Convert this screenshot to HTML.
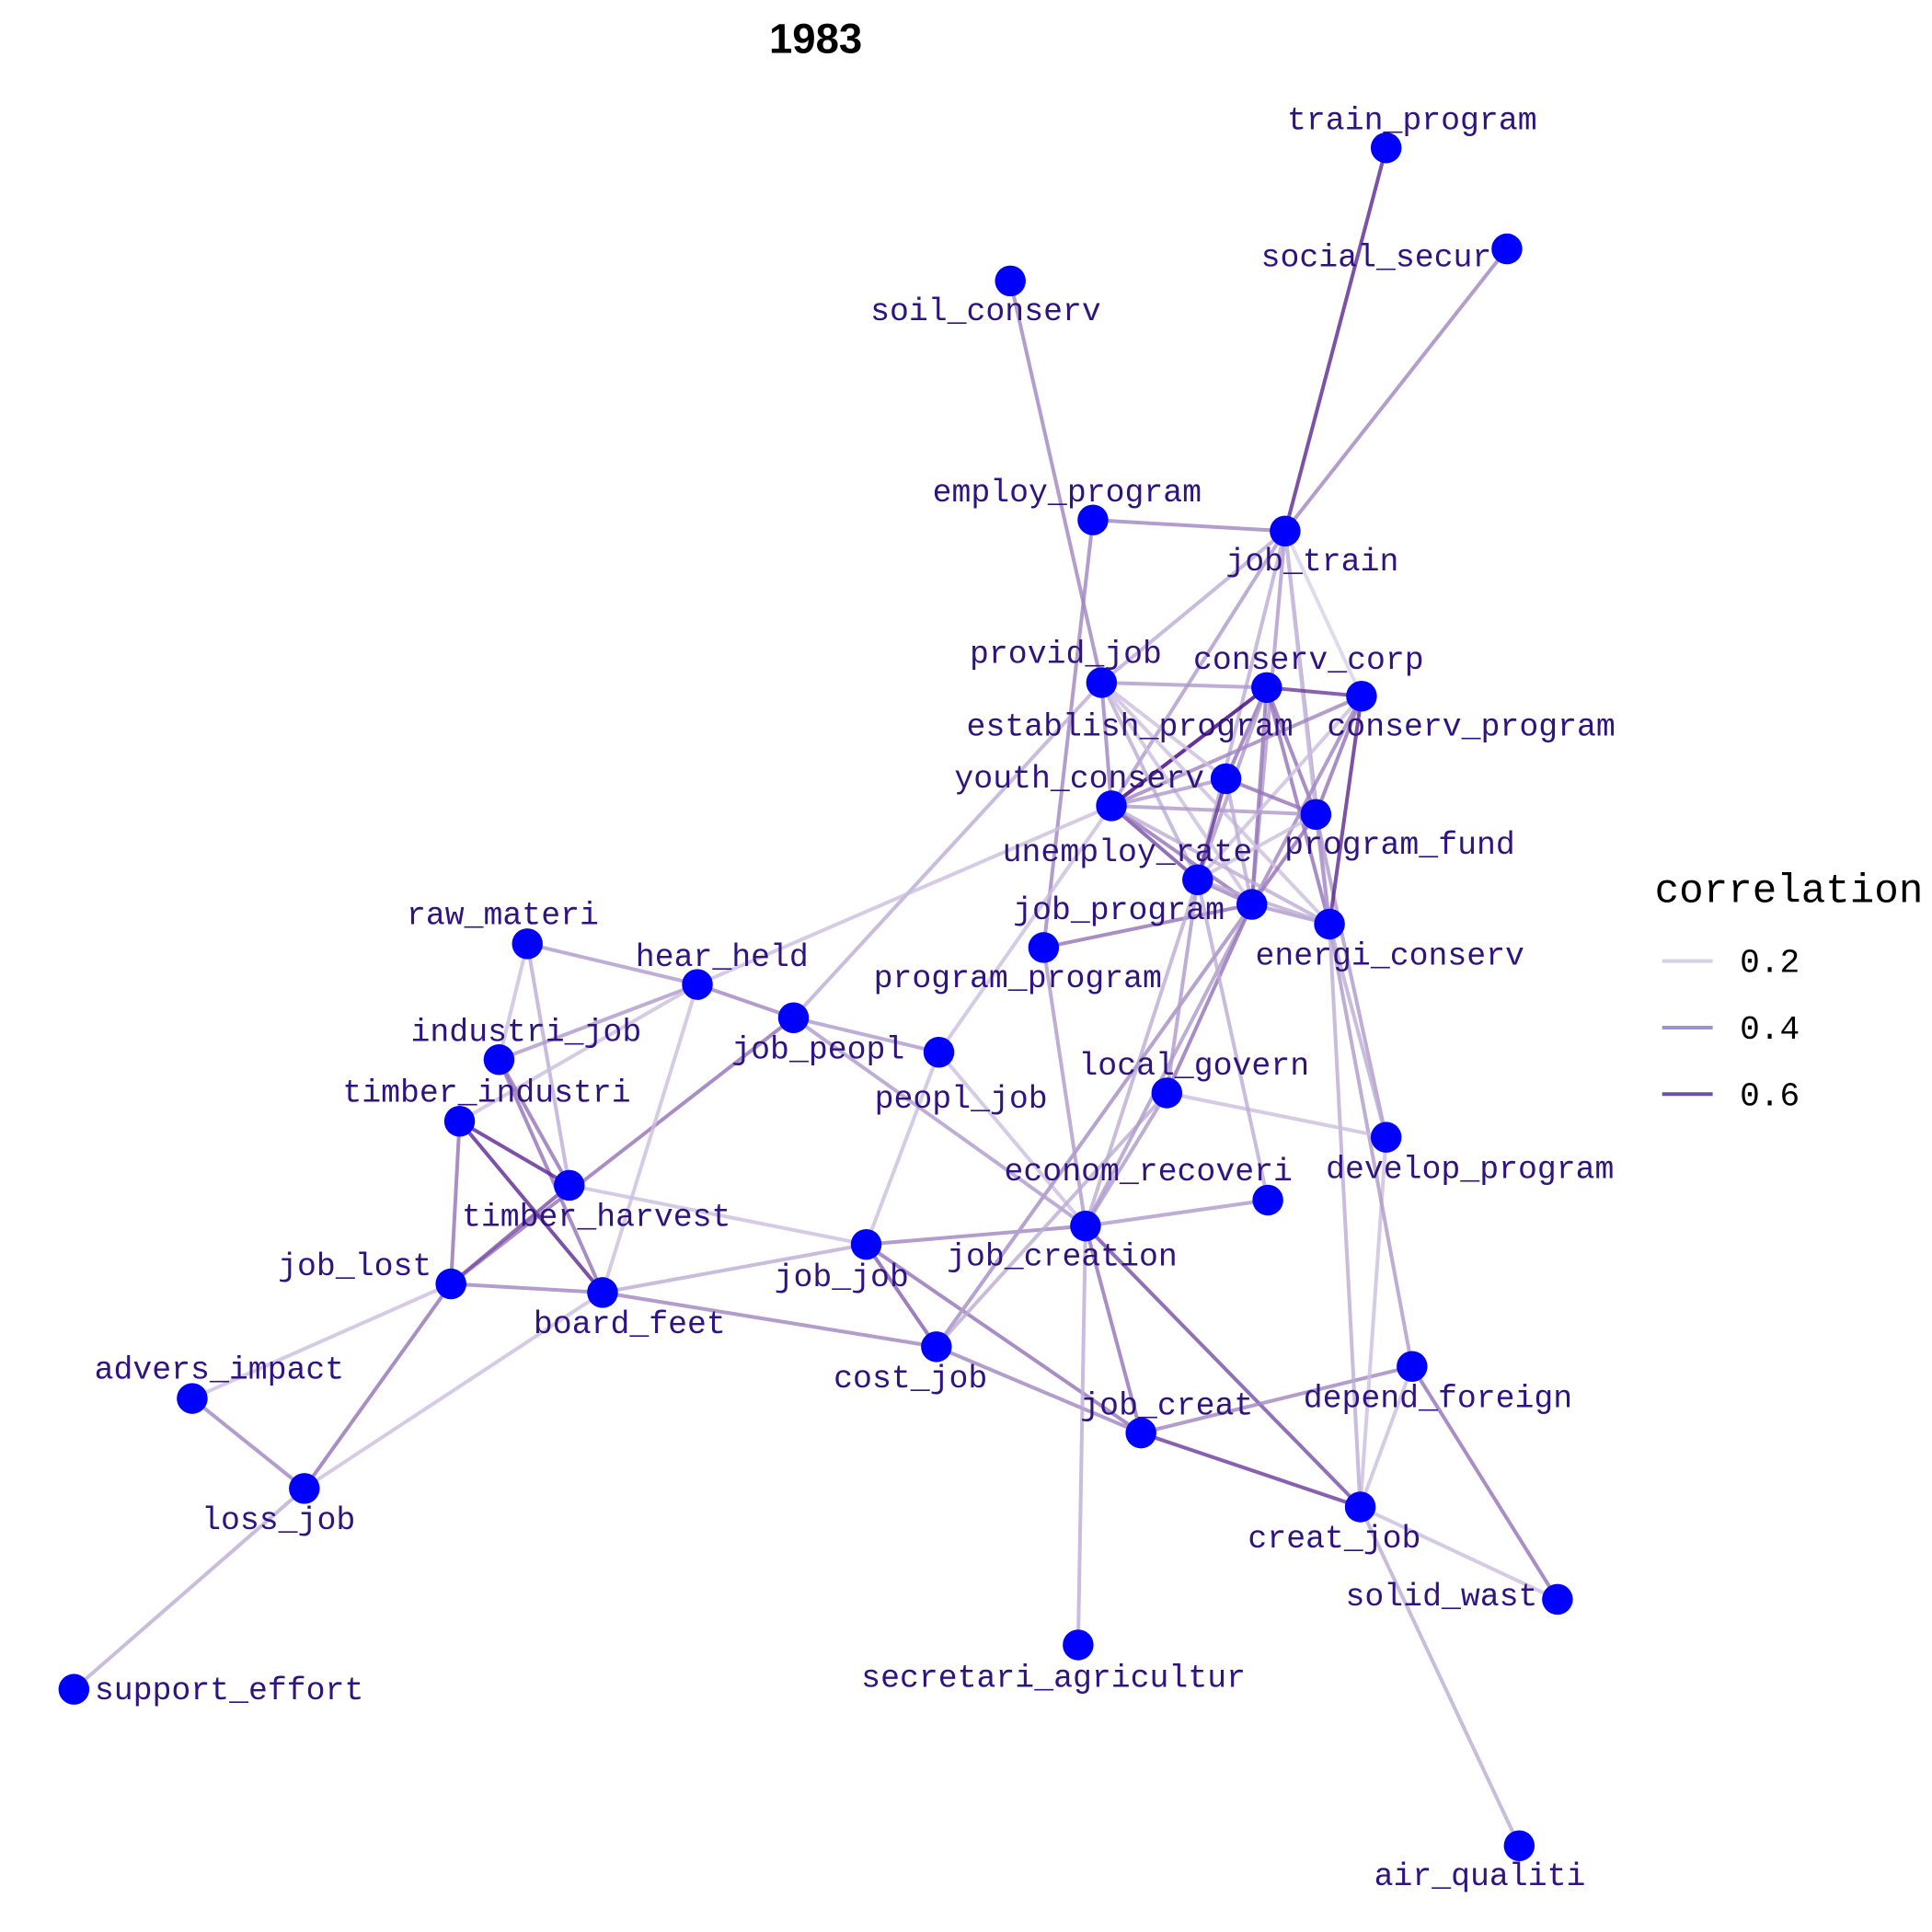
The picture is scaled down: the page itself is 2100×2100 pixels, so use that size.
<!DOCTYPE html>
<html><head><meta charset="utf-8"><style>
html,body{margin:0;padding:0;background:#fff;}
svg{display:block;}
.lbl{font-family:"Liberation Mono","DejaVu Sans Mono",monospace;font-size:26px;fill:#2f1380;}
</style></head><body>
<svg id="chart" width="2100" height="2100" viewBox="0 0 1568 1568" xmlns="http://www.w3.org/2000/svg">
<text x="662" y="43" text-anchor="middle" font-family="Liberation Sans, sans-serif" font-weight="bold" font-size="34" fill="#000">1983</text>
<g id="edges"></g>
<g id="nodes"></g>
<g id="labels"></g>
<g>
<text x="1343" y="732" font-family="Liberation Mono, monospace" font-size="33" fill="#000">correlation</text>
<line x1="1349" y1="780" x2="1390" y2="780" stroke="#d4d0e6" stroke-width="3"/>
<text x="1412" y="789" font-family="Liberation Mono, monospace" font-size="27" fill="#000">0.2</text>
<line x1="1349" y1="834" x2="1390" y2="834" stroke="#9f92c9" stroke-width="3"/>
<text x="1412" y="843" font-family="Liberation Mono, monospace" font-size="27" fill="#000">0.4</text>
<line x1="1349" y1="888" x2="1390" y2="888" stroke="#6a52a3" stroke-width="3"/>
<text x="1412" y="897" font-family="Liberation Mono, monospace" font-size="27" fill="#000">0.6</text>
</g>
</svg>
<script>
// node names, layout positions and label anchors
const nodeNames = ["train_program","social_secur","soil_conserv","employ_program","job_train","provid_job","conserv_corp","conserv_program","establish_program","youth_conserv","program_fund","unemploy_rate","job_program","energi_conserv","program_program","raw_materi","hear_held","job_peopl","peopl_job","industri_job","local_govern","timber_industri","develop_program","timber_harvest","econom_recoveri","job_creation","job_job","job_lost","board_feet","cost_job","depend_foreign","advers_impact","job_creat","loss_job","creat_job","solid_wast","secretari_agricultur","support_effort","air_qualiti"];
const nodeX = [1125,1223,820,887,1043,894,1028,1105,995,902,1068,972,1016,1079,847,428,566,644,762,405,947,373,1125,462,1029,881,703,366,489,760,1146,156,926,247,1104,1264,875,60,1233];
const nodeY = [120,202,228,422,431,554,558,565,632,654,661,714,734,750,769,766,799,826,854,860,887,910,923,962,974,995,1010,1042,1049,1093,1109,1135,1163,1208,1223,1298,1335,1371,1498];
const labelX = [1146,1117,800,866,1065,865,1062,1194,917,876,1136,915,908,1128,826,408,586,664,780,427,969,395,1193,484,932,862,683,288,511,739,1167,178,947,226,1083,1170,855,186,1201];
const labelY = [105,216,260,407,463,538,543,597,597,639,693,699,746,783,801,750,784,859,899,845,872,894,956,995,958,1027,1044,1035,1082,1126,1142,1119,1148,1241,1256,1303,1369,1379,1530];
// edges: source, target, correlation
const edgeSource = ["train_program","social_secur","soil_conserv","employ_program","employ_program","job_train","job_train","job_train","job_train","job_train","job_train","job_train","job_peopl","hear_held","program_program","program_program","peopl_job","peopl_job","peopl_job","job_peopl","job_peopl","job_peopl","job_peopl","raw_materi","raw_materi","raw_materi","hear_held","hear_held","hear_held","industri_job","industri_job","timber_industri","timber_industri","timber_industri","timber_harvest","timber_harvest","job_lost","job_lost","job_lost","advers_impact","loss_job","loss_job","board_feet","board_feet","job_job","job_job","job_job","cost_job","cost_job","job_creation","job_creation","job_creation","job_creation","job_creation","job_creation","job_creation","job_creat","job_creat","depend_foreign","depend_foreign","creat_job","creat_job","creat_job","creat_job","depend_foreign","develop_program","develop_program","local_govern","local_govern","econom_recoveri","youth_conserv","conserv_corp","conserv_corp","conserv_corp","conserv_corp","conserv_corp","conserv_corp","conserv_corp","conserv_program","conserv_program","conserv_program","conserv_program","conserv_program","provid_job","provid_job","provid_job","provid_job","provid_job","youth_conserv","youth_conserv","youth_conserv","youth_conserv","youth_conserv","establish_program","establish_program","establish_program","program_fund","program_fund","program_fund","unemploy_rate","job_program","unemploy_rate","job_program","energi_conserv","cost_job"];
const edgeTarget = ["job_train","job_train","provid_job","program_program","job_train","youth_conserv","unemploy_rate","job_program","energi_conserv","program_fund","conserv_program","provid_job","provid_job","youth_conserv","job_program","job_creation","job_creation","job_job","youth_conserv","hear_held","peopl_job","job_lost","job_creation","hear_held","industri_job","timber_harvest","industri_job","timber_industri","board_feet","timber_harvest","board_feet","timber_harvest","board_feet","job_lost","job_lost","job_job","board_feet","advers_impact","loss_job","loss_job","board_feet","support_effort","job_job","cost_job","job_creation","cost_job","job_creat","job_creat","local_govern","econom_recoveri","job_creat","creat_job","secretari_agricultur","local_govern","unemploy_rate","job_program","creat_job","depend_foreign","creat_job","solid_wast","solid_wast","air_qualiti","develop_program","energi_conserv","energi_conserv","local_govern","program_fund","job_program","unemploy_rate","unemploy_rate","conserv_corp","conserv_program","establish_program","program_fund","job_program","energi_conserv","unemploy_rate","provid_job","energi_conserv","program_fund","job_program","youth_conserv","unemploy_rate","youth_conserv","establish_program","unemploy_rate","job_program","energi_conserv","establish_program","program_fund","unemploy_rate","job_program","energi_conserv","program_fund","unemploy_rate","job_program","job_program","energi_conserv","unemploy_rate","job_program","energi_conserv","energi_conserv","cost_job","develop_program","job_program"];
const edgeWeight = [0.6,0.35,0.35,0.35,0.35,0.3,0.25,0.3,0.3,0.2,0.15,0.25,0.25,0.2,0.4,0.3,0.2,0.2,0.2,0.35,0.3,0.4,0.3,0.3,0.2,0.25,0.3,0.2,0.2,0.4,0.4,0.6,0.6,0.4,0.5,0.2,0.35,0.2,0.4,0.35,0.2,0.25,0.25,0.35,0.35,0.45,0.4,0.35,0.25,0.3,0.4,0.5,0.25,0.3,0.25,0.3,0.55,0.35,0.2,0.4,0.2,0.25,0.2,0.25,0.3,0.2,0.3,0.4,0.3,0.25,0.7,0.55,0.4,0.4,0.4,0.4,0.3,0.3,0.6,0.4,0.35,0.35,0.2,0.35,0.2,0.25,0.2,0.2,0.3,0.3,0.5,0.4,0.25,0.4,0.55,0.25,0.4,0.3,0.2,0.35,0.3,0.25,0.2,0.25,0.3];

const NS = "http://www.w3.org/2000/svg";
function idx(n){ return nodeNames.indexOf(n); }
function colorScale(w){
  const lo=[230,228,242], hi=[63,0,125];
  let t=(w-0.1)/0.6; t=Math.max(0,Math.min(1.15,t));
  const c=lo.map((v,i)=>Math.round(Math.max(0,Math.min(255,v+(hi[i]-v)*t))));
  return "rgb("+c.join(",")+")";
}
const gE=document.getElementById("edges");
for(let i=0;i<edgeSource.length;i++){
  const a=idx(edgeSource[i]), b=idx(edgeTarget[i]);
  if(a<0||b<0) continue;
  const l=document.createElementNS(NS,"line");
  l.setAttribute("x1",nodeX[a]);l.setAttribute("y1",nodeY[a]);
  l.setAttribute("x2",nodeX[b]);l.setAttribute("y2",nodeY[b]);
  l.setAttribute("stroke",colorScale(edgeWeight[i]));
  l.setAttribute("stroke-width","3");
  l.setAttribute("stroke-opacity","0.8");
  
  
  gE.appendChild(l);
}
const gN=document.getElementById("nodes"), gL=document.getElementById("labels");
for(let i=0;i<nodeNames.length;i++){
  const c=document.createElementNS(NS,"circle");
  c.setAttribute("cx",nodeX[i]);c.setAttribute("cy",nodeY[i]);c.setAttribute("r","12.5");
  c.setAttribute("fill","#0000ff");
  
  
  gN.appendChild(c);
  const t=document.createElementNS(NS,"text");
  t.setAttribute("x",labelX[i]);t.setAttribute("y",labelY[i]);
  t.setAttribute("text-anchor","middle");t.setAttribute("class","lbl");
  t.textContent=nodeNames[i];
  
  
  gL.appendChild(t);
}
</script>
</body></html>
